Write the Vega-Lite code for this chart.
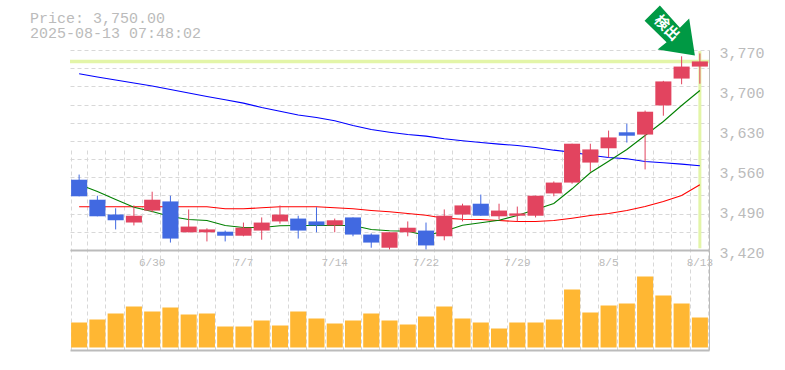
{"$schema":"https://vega.github.io/schema/vega-lite/v6.json","autosize":{"type":"none"},"padding":{"left":70,"top":50,"right":76,"bottom":20},"width":639,"height":300,"background":"white","title":{"text":["Price: 3,750.00","2025-08-13 07:48:02"],"anchor":"start","frame":"group","dx":-40,"offset":-35,"font":"Liberation Mono","fontSize":15,"fontWeight":"normal","color":"#bbbbbb","lineHeight":15},"config":{"view":{"stroke":null}},"datasets":{"d":[
{"date":"6/24","open":3543,"high":3552,"low":3514,"close":3514,"volume":25000,"ma5":3534.7,"ma25":3495.6,"ma75":3728.4},
{"date":"6/25","open":3508,"high":3515,"low":3479,"close":3479,"volume":28000,"ma5":3522.4,"ma25":3495.6,"ma75":3722.8},
{"date":"6/26","open":3482,"high":3493,"low":3456,"close":3472,"volume":34000,"ma5":3508.4,"ma25":3495.6,"ma75":3717.5},
{"date":"6/27","open":3468,"high":3498,"low":3463,"close":3480,"volume":41000,"ma5":3494.9,"ma25":3495.6,"ma75":3712.3},
{"date":"6/30","open":3489,"high":3522,"low":3486,"close":3508,"volume":36000,"ma5":3487.4,"ma25":3495.6,"ma75":3707},
{"date":"7/1","open":3505,"high":3515,"low":3433,"close":3440,"volume":40000,"ma5":3478.7,"ma25":3495.6,"ma75":3700.9},
{"date":"7/2","open":3451,"high":3491,"low":3451,"close":3461,"volume":33000,"ma5":3473.4,"ma25":3495.6,"ma75":3694.8},
{"date":"7/3","open":3451,"high":3458,"low":3435,"close":3456,"volume":34000,"ma5":3471.7,"ma25":3495.6,"ma75":3688.7},
{"date":"7/4","open":3452,"high":3454,"low":3435,"close":3445,"volume":21000,"ma5":3462.9,"ma25":3492.1,"ma75":3682.9},
{"date":"7/7","open":3445,"high":3468,"low":3444,"close":3459,"volume":21000,"ma5":3459.4,"ma25":3492.1,"ma75":3677},
{"date":"7/8","open":3454,"high":3477,"low":3438,"close":3468,"volume":27000,"ma5":3459.4,"ma25":3493.9,"ma75":3669.4},
{"date":"7/9","open":3470,"high":3498,"low":3466,"close":3482,"volume":22000,"ma5":3462.4,"ma25":3495.6,"ma75":3662.9},
{"date":"7/10","open":3475,"high":3480,"low":3440,"close":3454,"volume":36000,"ma5":3462.9,"ma25":3495.6,"ma75":3656.3},
{"date":"7/11","open":3470,"high":3495,"low":3451,"close":3463,"volume":29000,"ma5":3462.9,"ma25":3495.6,"ma75":3651.9},
{"date":"7/14","open":3463,"high":3475,"low":3451,"close":3472,"volume":24000,"ma5":3462.9,"ma25":3493.9,"ma75":3646.1},
{"date":"7/15","open":3477,"high":3477,"low":3444,"close":3447,"volume":27000,"ma5":3462.9,"ma25":3492.1,"ma75":3637.9},
{"date":"7/16","open":3447,"high":3449,"low":3424,"close":3433,"volume":34000,"ma5":3455.9,"ma25":3489.2,"ma75":3630.9},
{"date":"7/17","open":3424,"high":3451,"low":3421,"close":3451,"volume":27000,"ma5":3453.6,"ma25":3486.9,"ma75":3626.2},
{"date":"7/18","open":3451,"high":3470,"low":3444,"close":3459,"volume":23000,"ma5":3452.9,"ma25":3483.9,"ma75":3622.2},
{"date":"7/22","open":3454,"high":3468,"low":3421,"close":3428,"volume":31000,"ma5":3445.4,"ma25":3480.9,"ma75":3619.2},
{"date":"7/23","open":3444,"high":3491,"low":3437,"close":3480,"volume":41000,"ma5":3452.9,"ma25":3475.7,"ma75":3614.6},
{"date":"7/24","open":3482,"high":3501,"low":3470,"close":3498,"volume":29000,"ma5":3463.4,"ma25":3473.9,"ma75":3611.1},
{"date":"7/25","open":3501,"high":3517,"low":3480,"close":3480,"volume":25000,"ma5":3467.6,"ma25":3473.4,"ma75":3608.2},
{"date":"7/28","open":3479,"high":3501,"low":3473,"close":3489,"volume":19000,"ma5":3472.2,"ma25":3471.7,"ma75":3605.2},
{"date":"7/29","open":3480,"high":3496,"low":3470,"close":3484,"volume":25000,"ma5":3480.4,"ma25":3469.9,"ma75":3602.9},
{"date":"7/30","open":3480,"high":3515,"low":3477,"close":3515,"volume":25000,"ma5":3490.9,"ma25":3469.9,"ma75":3599.4},
{"date":"7/31","open":3519,"high":3540,"low":3514,"close":3538,"volume":28000,"ma5":3501.4,"ma25":3471.7,"ma75":3594.7},
{"date":"8/1","open":3538,"high":3606,"low":3536,"close":3606,"volume":58000,"ma5":3527.1,"ma25":3475.7,"ma75":3591.2},
{"date":"8/4","open":3573,"high":3606,"low":3557,"close":3596,"volume":35000,"ma5":3555.1,"ma25":3480.4,"ma75":3585.9},
{"date":"8/5","open":3598,"high":3629,"low":3582,"close":3617,"volume":42000,"ma5":3575.4,"ma25":3483.9,"ma75":3581.9},
{"date":"8/6","open":3626,"high":3641,"low":3608,"close":3620,"volume":44000,"ma5":3595.9,"ma25":3489.2,"ma75":3579.6},
{"date":"8/7","open":3622,"high":3664,"low":3561,"close":3662,"volume":71000,"ma5":3620.4,"ma25":3496.2,"ma75":3574.9},
{"date":"8/8","open":3673,"high":3716,"low":3655,"close":3715,"volume":52000,"ma5":3644.9,"ma25":3504.9,"ma75":3572.6},
{"date":"8/12","open":3720,"high":3759,"low":3710,"close":3741,"volume":44000,"ma5":3672.9,"ma25":3515.4,"ma75":3570.2},
{"date":"8/13","open":3741,"high":3764,"low":3711,"close":3750,"volume":30000,"ma5":3699.2,"ma25":3534.1,"ma75":3567.4}
],"last":[{"date":"8/13","price":3750,"top":3768,"bottom":3423,"anchor":3770,"label":"検出"}]},
"data":{"name":"d"},
"resolve":{"scale":{"y":"independent"},"axis":{"x":"independent","y":"independent"}},
"layer":[
{"resolve":{"scale":{"y":"shared"},"axis":{"x":"independent","y":"independent"}},
"layer":[
{"mark":{"type":"rule","opacity":0},"encoding":{
"x":{"field":"date","type":"ordinal","sort":null,"scale":{"paddingInner":0.12,"paddingOuter":0.06},"axis":{"title":null,"orient":"bottom","labels":false,"ticks":false,"domain":false,"grid":true,"tickBand":"extent","gridColor":"#d8d8d8","gridDash":[4,3],"gridWidth":1}},
"y":{"field":"low","type":"quantitative","scale":{"domain":[3420,3770],"range":[200,0],"zero":false,"nice":false},"axis":{"title":null,"orient":"left","labels":false,"ticks":false,"domain":false,"grid":true,"gridColor":"#d8d8d8","gridDash":[4,3],"gridWidth":1,"values":[3420,3451.82,3483.64,3515.45,3547.27,3579.09,3610.91,3642.73,3674.55,3706.36,3738.18,3770]}}}},
{"mark":{"type":"rule","opacity":0},"encoding":{
"x":{"field":"date","type":"ordinal","sort":null,"axis":{"title":null,"orient":"bottom","offset":-100,"ticks":false,"grid":false,"domain":true,"domainColor":"#bbbbbb","domainWidth":2,"labelAngle":0,"labelFont":"Liberation Mono","labelFontSize":11,"labelColor":"#bbbbbb","labelPadding":6,"labelBaseline":"top","labelOverlap":false,"values":["6/30","7/7","7/14","7/22","7/29","8/5","8/13"]}},
"y":{"field":"low","type":"quantitative","axis":{"title":null,"orient":"right","ticks":false,"grid":false,"domain":true,"domainColor":"#bbbbbb","domainWidth":1,"labelFont":"Liberation Mono","labelFontSize":15,"labelColor":"#bbbbbb","labelPadding":10,"labelOffset":2,"format":",.0f","values":[3420,3490,3560,3630,3700,3770]}}}},
{"data":{"name":"last"},"mark":{"type":"rule","color":"#e3f5a8","strokeWidth":3.5},"encoding":{"y":{"field":"price","type":"quantitative","axis":null}}},
{"data":{"name":"last"},"mark":{"type":"rule","color":"#e3f5a8","strokeWidth":3},"encoding":{"x":{"field":"date","type":"ordinal","sort":null,"axis":null},"y":{"field":"bottom","type":"quantitative","axis":null},"y2":{"field":"top"}}},
{"mark":{"type":"line","color":"#0000ff","strokeWidth":1.1},"encoding":{"x":{"field":"date","type":"ordinal","sort":null,"axis":null},"y":{"field":"ma75","type":"quantitative","axis":null}}},
{"mark":{"type":"line","color":"#ff0000","strokeWidth":1.1},"encoding":{"x":{"field":"date","type":"ordinal","sort":null,"axis":null},"y":{"field":"ma25","type":"quantitative","axis":null}}},
{"mark":{"type":"line","color":"#008000","strokeWidth":1.1},"encoding":{"x":{"field":"date","type":"ordinal","sort":null,"axis":null},"y":{"field":"ma5","type":"quantitative","axis":null}}},
{"mark":{"type":"rule","strokeWidth":1},"encoding":{"x":{"field":"date","type":"ordinal","sort":null,"axis":null},"y":{"field":"low","type":"quantitative","axis":null},"y2":{"field":"high"},"color":{"condition":{"test":"datum.close>=datum.open","value":"#e2445f"},"value":"#4169e1"}}},
{"mark":{"type":"bar"},"encoding":{"x":{"field":"date","type":"ordinal","sort":null,"axis":null},"y":{"field":"open","type":"quantitative","axis":null},"y2":{"field":"close"},"color":{"condition":{"test":"datum.close>=datum.open","value":"#e2445f"},"value":"#4169e1"}}},
{"data":{"name":"last"},"mark":{"type":"point","filled":true,"size":4,"opacity":1,"strokeWidth":0,"color":"#009944","shape":"M-40,-44.5L-55.3,-29.2L-33.3,-7.8L-42.3,-0.5L-5,5.5L-10.7,-31.5L-20,-22.2Z"},"encoding":{"x":{"field":"date","type":"ordinal","sort":null,"axis":null},"y":{"field":"anchor","type":"quantitative","axis":null}}},
{"data":{"name":"last"},"mark":{"type":"text","color":"#ffffff","font":"Noto Sans CJK JP","fontWeight":"bold","fontSize":14.5,"angle":45,"dx":-38.9,"dy":8.5,"align":"center","baseline":"middle"},"encoding":{"x":{"field":"date","type":"ordinal","sort":null,"axis":null},"y":{"field":"anchor","type":"quantitative","axis":null},"text":{"field":"label"}}}
]},
{"mark":{"type":"bar","color":"#ffb733"},"encoding":{
"x":{"field":"date","type":"ordinal","sort":null,"axis":{"title":null,"orient":"bottom","labels":false,"ticks":false,"domain":true,"domainColor":"#bbbbbb","domainWidth":2,"grid":false}},
"y":{"field":"volume","type":"quantitative","scale":{"domain":[-2500,97500],"range":[300,200],"zero":false,"nice":false},"axis":{"title":null,"orient":"right","labels":false,"ticks":false,"grid":false,"domain":true,"domainColor":"#bbbbbb","domainWidth":1}},
"y2":{"datum":0}}}
]}
